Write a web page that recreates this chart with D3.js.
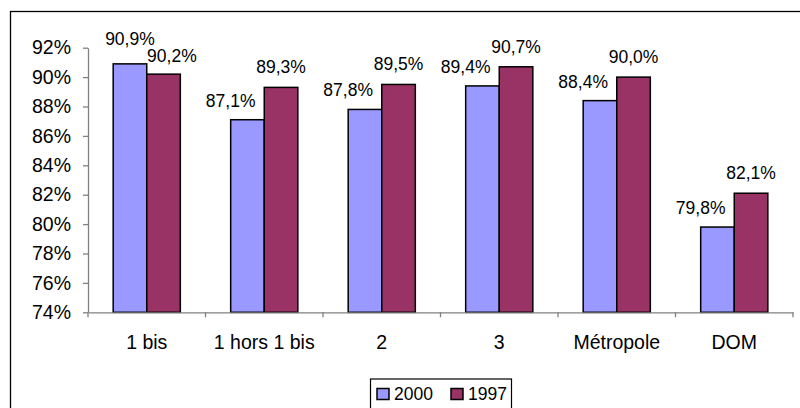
<!DOCTYPE html>
<html>
<head>
<meta charset="utf-8">
<script src="https://cdn.jsdelivr.net/npm/d3@7"></script>
<style>
  body { margin: 0; background: #fff; }
  svg { font-family: Arial, "Liberation Sans", sans-serif; }
</style>
</head>
<body>
<script>
// data
const categories = ['1 bis', '1 hors 1 bis', '2', '3', 'Métropole', 'DOM'];
const seriesNames = ['2000', '1997'];
const values2000 = [90.9, 87.1, 87.8, 89.4, 88.4, 79.8];
const values1997 = [90.2, 89.3, 89.5, 90.7, 90.0, 82.1];
const yTicks = [74, 76, 78, 80, 82, 84, 86, 88, 90, 92];

const colors = { '2000': '#9999FF', '1997': '#993366' };
const width = 800;
const height = 408;

const rows = categories.map((c, i) => ({ cat: c, '2000': values2000[i], '1997': values1997[i] }));

const fr = d3.formatLocale({ decimal: ',', thousands: ' ', grouping: [3], currency: ['', '€'] });
const fmt = fr.format('.1f');

// scales
const x0 = d3.scaleBand().domain(categories).range([88, 793]).paddingInner(0).paddingOuter(0);
const x1 = d3.scaleBand().domain(seriesNames).range([0, x0.bandwidth()]).paddingInner(0).paddingOuter(0.75);
const y = d3.scaleLinear().domain([74, 92]).range([312.3, 47.7]);

const svg = d3.select('body').append('svg')
  .attr('width', width)
  .attr('height', height);

// outer chart frame (runs past the right and bottom edges)
svg.append('rect')
  .attr('x', 10.5).attr('y', 11.5)
  .attr('width', width).attr('height', height)
  .attr('fill', 'none').attr('stroke', '#000').attr('stroke-width', 1.3);

// y axis
const gy = svg.append('g').attr('transform', 'translate(88,0)');
gy.call(d3.axisLeft(y).tickValues(yTicks).tickFormat((d) => d + '%').tickSize(5).tickSizeOuter(0).tickPadding(12));
gy.selectAll('text').attr('font-size', 19.5).attr('fill', '#000').attr('font-family', null);
gy.selectAll('line, path').attr('stroke', '#808080').attr('stroke-width', 1.3);

// bars, one group per category
const groups = svg.selectAll('g.cat')
  .data(rows)
  .join('g')
  .attr('class', 'cat')
  .attr('transform', (d) => `translate(${x0(d.cat)},0)`);

groups.selectAll('rect')
  .data((d) => seriesNames.map((s) => ({ s, v: d[s] })))
  .join('rect')
  .attr('x', (d) => x1(d.s))
  .attr('y', (d) => y(d.v))
  .attr('width', x1.bandwidth())
  .attr('height', (d) => y(74) - y(d.v))
  .attr('fill', (d) => colors[d.s])
  .attr('stroke', '#000')
  .attr('stroke-width', 1.5);

// x axis: category labels, ticks at the band edges
const gx = svg.append('g').attr('transform', `translate(0,${y(74)})`);
gx.call(d3.axisBottom(x0).tickSize(0).tickPadding(23));
gx.select('.domain').attr('stroke', '#808080').attr('stroke-width', 1.3);
gx.selectAll('text').attr('font-size', 19.5).attr('fill', '#000').attr('font-family', null);
gx.selectAll('line.edge')
  .data(categories.concat(['end']))
  .join('line')
  .attr('class', 'edge')
  .attr('x1', (d, i) => (i < categories.length ? x0(d) : x0.range()[1]))
  .attr('x2', (d, i) => (i < categories.length ? x0(d) : x0.range()[1]))
  .attr('y1', 0).attr('y2', 5)
  .attr('stroke', '#808080').attr('stroke-width', 1.3);

// data labels, nudged like the spreadsheet does to keep them off the bars
groups.each(function (d) {
  const g = d3.select(this);
  const a = d['2000'];
  const b = d['1997'];
  const bw = x1.bandwidth();
  const labels = seriesNames.map((s) => ({ s, v: d[s], x: x1(s) + bw / 2, y: y(d[s]) - 14 }));
  if (a < b) {
    // lower left label moves left so it clears the taller bar
    labels[0].x = x1('2000');
    labels[0].y += 1;
  } else {
    // labels collide above: raise the left one, push the right one out
    labels[0].y -= 5;
    labels[1].x += bw / 4;
    labels[1].y += 2;
  }
  g.selectAll('text.val')
    .data(labels)
    .join('text')
    .attr('class', 'val')
    .attr('x', (l) => l.x)
    .attr('y', (l) => l.y)
    .attr('text-anchor', 'middle')
    .attr('font-size', 17.5)
    .attr('fill', '#000')
    .text((l) => fmt(l.v) + '%');
});

// legend
const legend = svg.append('g').attr('transform', 'translate(370,378.5)');
legend.append('rect')
  .attr('x', 0.5).attr('y', 0.5)
  .attr('width', 141).attr('height', 40)
  .attr('fill', '#fff').attr('stroke', '#000').attr('stroke-width', 1.2);
const items = legend.selectAll('g.item')
  .data(seriesNames)
  .join('g')
  .attr('class', 'item')
  .attr('transform', (d, i) => `translate(${7 + i * 74},10)`);
items.append('rect')
  .attr('width', 12).attr('height', 11)
  .attr('fill', (d) => colors[d])
  .attr('stroke', '#000').attr('stroke-width', 1.5);
items.append('text')
  .attr('x', 17).attr('y', 11.5)
  .attr('font-size', 17.5)
  .attr('fill', '#000')
  .text((d) => d);
</script>
</body>
</html>
